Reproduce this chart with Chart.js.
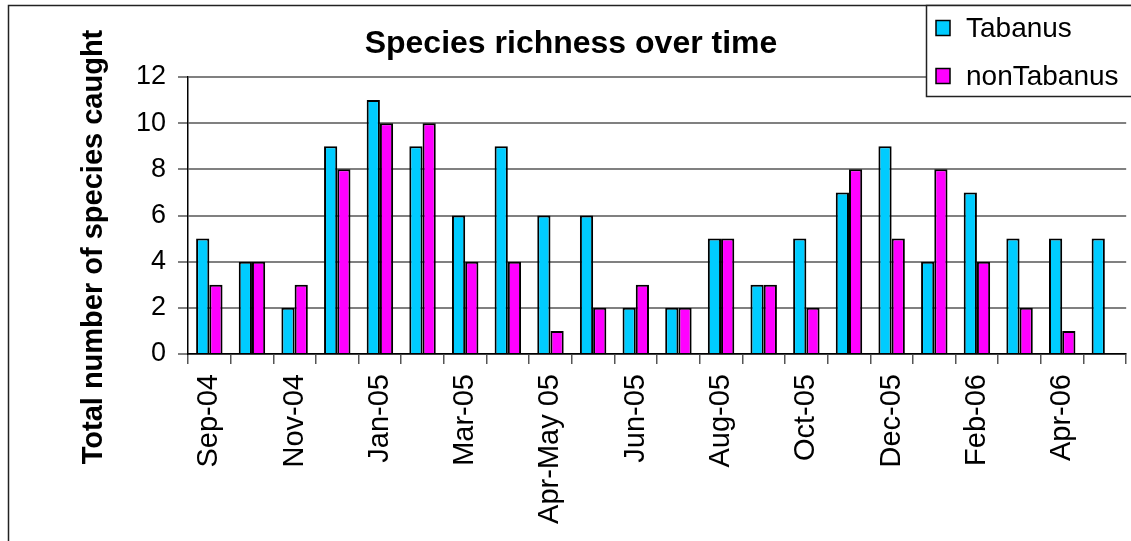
<!DOCTYPE html>
<html>
<head>
<meta charset="utf-8">
<style>
  html, body { margin: 0; padding: 0; background: #fff; overflow: hidden; }
  canvas { display: block; }
</style>
<script src="https://cdn.jsdelivr.net/npm/chart.js@4.4.1/dist/chart.umd.min.js"></script>
</head>
<body>
<canvas id="c" width="1150" height="541"></canvas>
<script>
// Monthly sampling periods
const months = ['Sep-04','Oct-04','Nov-04','Dec-04','Jan-05','Feb-05','Mar-05','Apr-05','Apr-May 05','May-05',
                'Jun-05','Jul-05','Aug-05','Sep-05','Oct-05','Nov-05','Dec-05','Jan-06','Feb-06','Mar-06',
                'Apr-06','May-06'];
// Number of species caught per period
const tabanus    = [5,4,2,9,11,9,6,9,6,6,2,2,5,3,5,7,9,4,7,5,5,5];
const nonTabanus = [3,4,3,8,10,10,4,4,1,2,3,2,5,3,2,8,5,8,4,2,1,null];
const yTicks = [0,2,4,6,8,10,12];
const seriesNames = ['Tabanus','nonTabanus'];
const seriesColors = ['#00CCFF','#FF00FF'];
const chartTitle = 'Species richness over time';
const yAxisTitle = 'Total number of species caught';

const FONT = '"Liberation Sans", Arial, Helvetica, sans-serif';

// Frame, title, rotated axis title and boxed legend
const decorations = {
  id: 'decorations',
  beforeDraw(chart) {
    const ctx = chart.ctx;
    ctx.save();
    ctx.fillStyle = '#fff';
    ctx.fillRect(0, 0, chart.width, chart.height);
    ctx.strokeStyle = '#222';
    ctx.lineWidth = 1.5;
    ctx.strokeRect(8.5, 5.5, chart.width, chart.height);
    ctx.restore();
  },
  afterDraw(chart) {
    const ctx = chart.ctx;
    ctx.save();
    // title
    ctx.fillStyle = '#000';
    ctx.font = 'bold 32px ' + FONT;
    ctx.textAlign = 'center';
    ctx.textBaseline = 'middle';
    ctx.fillText(chartTitle, 571, 44);
    // y axis title
    ctx.save();
    ctx.translate(94, 247);
    ctx.rotate(-Math.PI / 2);
    ctx.font = 'bold 29px ' + FONT;
    ctx.fillText(yAxisTitle, 0, 0);
    ctx.restore();
    // legend box
    ctx.fillStyle = '#fff';
    ctx.fillRect(926.5, 5.5, chart.width, 91);
    ctx.strokeStyle = '#222';
    ctx.lineWidth = 1.5;
    ctx.strokeRect(926.5, 5.5, chart.width, 91);
    chart.data.datasets.forEach((ds, i) => {
      const cy = 28 + i * 48;
      ctx.fillStyle = ds.backgroundColor;
      ctx.fillRect(936, cy - 7.5, 14, 15);
      ctx.strokeStyle = '#000';
      ctx.lineWidth = 1.5;
      ctx.strokeRect(936, cy - 7.5, 14, 15);
      ctx.fillStyle = '#000';
      ctx.font = '28px ' + FONT;
      ctx.textAlign = 'left';
      ctx.textBaseline = 'middle';
      ctx.fillText(ds.label, 966, cy + 1);
    });
    ctx.restore();
  }
};

new Chart(document.getElementById('c'), {
  type: 'bar',
  data: {
    labels: months,
    datasets: [
      { label: seriesNames[0], data: tabanus, backgroundColor: seriesColors[0], borderColor: '#000', borderWidth: 2 },
      { label: seriesNames[1], data: nonTabanus, backgroundColor: seriesColors[1], borderColor: '#000', borderWidth: 2 }
    ]
  },
  options: {
    responsive: false,
    animation: false,
    devicePixelRatio: 1,
    layout: { padding: { left: 0, top: 77, right: 15, bottom: 0 } },
    datasets: { bar: { categoryPercentage: 0.62, barPercentage: 1.0 } },
    plugins: {
      legend: { display: false },
      title: { display: false },
      tooltip: { enabled: false }
    },
    scales: {
      x: {
        afterFit(scale) { scale.height = 187; },
        grid: { drawOnChartArea: false, drawTicks: true, tickLength: 10, color: '#555', lineWidth: 1.5 },
        border: { color: '#000', width: 1.5 },
        ticks: {
          autoSkip: false,
          maxRotation: 90,
          minRotation: 90,
          padding: 10,
          color: '#000',
          font: { family: FONT, size: 29 },
          callback(value, index) { return index % 2 === 0 ? months[index] : ''; }
        }
      },
      y: {
        min: 0,
        max: 12,
        afterFit(scale) { scale.width = 188; },
        afterBuildTicks(scale) { scale.ticks = yTicks.map(v => ({ value: v })); },
        grid: { color: '#808080', lineWidth: 2, tickLength: 10 },
        border: { color: '#000', width: 1.5 },
        ticks: {
          padding: 12,
          color: '#000',
          font: { family: FONT, size: 27 }
        }
      }
    }
  },
  plugins: [decorations]
});
</script>
</body>
</html>
